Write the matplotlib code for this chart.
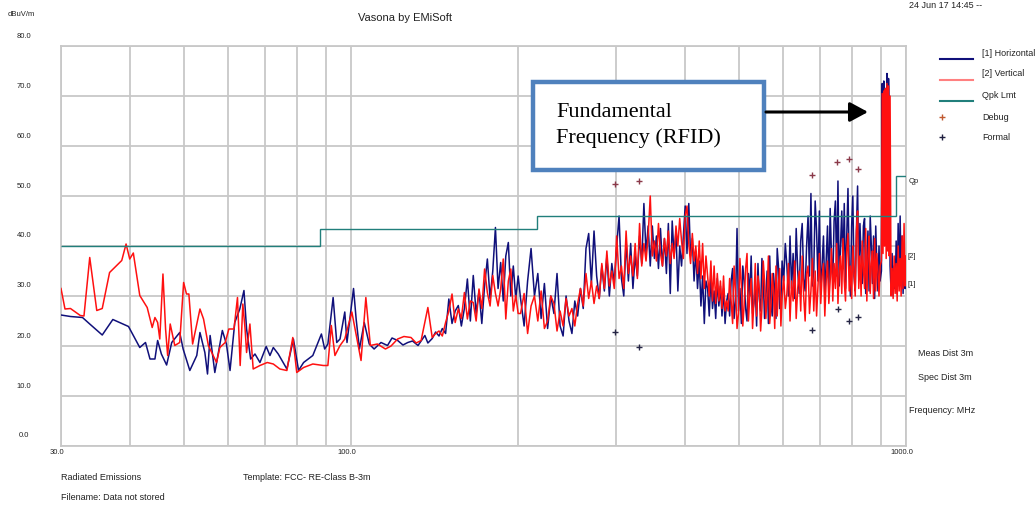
import math
import matplotlib
matplotlib.use('Agg')
import matplotlib.pyplot as plt
from matplotlib.patches import Rectangle, FancyArrowPatch
from matplotlib.lines import Line2D
from matplotlib.ticker import NullLocator

plt.rcParams['font.family'] = ['Liberation Sans', 'DejaVu Sans']

# ---------------- data (MHz, dBuV/m) ----------------
# 30 - 140 MHz, read point by point
horiz_low = [(30.0, 26.2), (31.2, 25.9), (32.8, 25.7), (33.8, 24.4), (35.6, 22.2), (37.2, 25.3),
             (39.7, 23.9), (40.5, 22.1), (41.6, 19.7), (42.6, 20.7), (43.4, 17.4), (44.3, 17.4),
             (44.8, 21.1), (45.5, 18.4), (46.5, 16.2), (47.5, 20.7), (49.1, 22.7), (49.8, 19.4),
             (51.2, 15.1), (52.7, 18.1), (53.4, 22.7), (54.5, 18.7), (55.1, 14.4), (55.7, 22.1),
             (56.8, 14.7), (58.6, 23.1), (59.6, 20.4), (60.5, 15.1), (61.7, 24.7), (63.0, 27.4),
             (64.1, 31.1), (64.8, 23.4), (65.9, 17.4), (67.1, 18.4), (68.5, 16.7), (70.3, 19.9),
             (71.4, 18.1), (72.4, 19.7), (73.9, 18.4), (76.6, 15.4), (78.7, 21.4), (80.4, 15.1),
             (82.1, 16.7), (85.3, 18.1), (88.4, 22.4), (89.6, 19.4), (90.8, 20.4), (92.8, 29.7),
             (94.2, 20.7), (95.5, 21.4), (97.4, 26.8), (98.3, 20.7), (101.0, 31.5), (102.1, 25.4),
             (103.5, 19.4), (105.6, 24.7), (107.8, 20.4), (110.0, 19.4), (113.2, 20.7), (116.3, 20.1),
             (118.5, 21.6), (121.3, 21.1), (124.0, 20.2), (126.5, 20.7), (129.0, 21.0), (132.0, 20.1),
             (135.8, 22.1), (137.5, 20.6)]

vert_low = [(30.0, 31.5), (30.5, 27.4), (31.2, 27.5), (32.5, 26.1), (33.0, 26.0), (33.8, 37.7),
            (34.8, 27.1), (35.6, 27.5), (36.7, 34.7), (38.6, 37.1), (39.3, 40.4), (39.9, 37.4),
            (40.5, 38.6), (41.6, 30.1), (42.9, 27.7), (43.8, 23.7), (44.3, 25.7), (44.8, 24.7),
            (45.2, 21.4), (45.8, 34.4), (46.3, 23.4), (46.7, 18.1), (47.2, 24.4), (48.1, 20.1),
            (49.1, 20.7), (49.9, 32.7), (50.5, 30.4), (51.0, 30.4), (51.8, 20.4), (53.4, 27.4),
            (54.2, 25.4), (55.3, 20.1), (56.4, 18.1), (57.2, 16.7), (58.0, 19.7), (59.3, 20.7),
            (60.2, 23.4), (61.5, 23.4), (62.4, 29.7), (63.1, 16.1), (63.8, 28.4), (64.4, 23.4),
            (64.8, 18.7), (65.7, 24.4), (66.6, 15.4), (68.5, 16.1), (70.6, 16.7), (72.4, 16.4),
            (74.4, 15.4), (76.6, 15.1), (78.5, 21.7), (79.8, 14.7), (82.1, 15.7), (85.3, 16.4),
            (89.1, 16.1), (90.8, 16.1), (92.1, 24.1), (93.5, 18.1), (95.5, 20.1), (97.4, 21.4),
            (100.3, 26.8), (104.2, 17.1), (106.3, 29.7), (108.3, 20.1), (111.5, 20.4), (115.3, 19.4),
            (118.0, 20.0), (121.3, 21.4), (124.5, 21.9), (128.2, 21.7), (131.0, 20.6), (133.7, 21.1),
            (137.5, 27.7)]

# 140 - 200 MHz sweep
sweep_a_freq = [140, 142, 144, 146, 148, 150, 152, 154, 156, 158,
                160, 162, 164, 166, 168, 170, 172, 174, 176, 178,
                180, 182, 184, 186, 188, 190, 192, 194, 196, 198, 200]
horiz_a = [21.5, 22.8, 22.0, 23.5, 22.5, 29.4, 24.5, 27.0, 28.1, 24.0,
           27.5, 33.4, 25.0, 34.1, 26.5, 31.0, 24.5, 32.1, 37.4, 29.5,
           35.0, 43.7, 31.5, 36.7, 29.0, 38.0, 40.7, 30.0, 36.0, 29.5, 34.0]
vert_a = [21.7, 22.5, 23.0, 22.0, 24.7, 27.0, 30.4, 24.7, 27.4, 25.5,
          30.7, 25.4, 29.0, 28.7, 25.0, 31.4, 27.5, 35.4, 30.7, 28.0,
          34.1, 30.5, 28.0, 31.4, 37.4, 25.4, 33.0, 35.4, 27.0, 30.1, 26.5]

# 202 - 475 MHz sweep
sweep_b_freq = [202, 205, 208, 211, 214, 217, 220, 223, 226, 229,
                232, 235, 238, 241, 244, 247, 250, 253, 256, 259,
                262, 265, 268, 271, 274, 277, 280, 283, 286, 289,
                292, 295, 298, 301, 304, 307, 310, 313, 316, 319,
                322, 325, 328, 331, 334, 337, 340, 343, 346, 349,
                352, 355, 358, 361, 364, 367, 370, 373, 376, 379,
                382, 385, 388, 391, 394, 397, 400, 403, 406, 409,
                412, 415, 418, 421, 424, 427, 430, 433, 436, 439,
                442, 445, 448, 451, 454, 457, 460, 463, 466, 469, 472, 475]
horiz_b = [29.5, 24.0, 33.0, 39.5, 30.0, 34.5, 25.5, 32.5, 23.5, 30.0,
           26.5, 34.5, 24.0, 22.0, 30.0, 25.0, 22.5, 29.0, 26.0, 31.5,
           27.5, 39.5, 42.5, 32.5, 43.0, 34.0, 29.5, 36.0, 31.0, 38.0,
           30.0, 36.5, 32.5, 40.0, 46.0, 33.5, 30.0, 41.0, 33.0, 40.5,
           31.5, 38.0, 34.0, 42.0, 36.5, 48.5, 38.5, 44.0, 36.0, 44.0,
           37.5, 42.0, 35.5, 43.5, 36.0, 41.5, 34.5, 44.5, 30.5, 45.0,
           38.0, 43.0, 31.0, 40.0, 36.0, 42.0, 48.0, 38.5, 48.5, 38.0,
           41.5, 33.0, 39.0, 31.5, 37.0, 28.0, 34.0, 24.5, 33.0, 31.5,
           26.0, 34.0, 27.5, 31.0, 25.5, 33.5, 28.0, 32.0, 26.0, 31.5, 24.5, 29.0]
vert_b = [26.5, 30.5, 22.5, 28.0, 30.0, 25.0, 31.0, 23.5, 25.0, 30.0,
          28.5, 23.0, 27.0, 24.0, 29.5, 26.0, 27.5, 24.0, 28.5, 31.5,
          28.0, 34.5, 29.5, 33.0, 28.5, 32.0, 29.5, 36.5, 31.5, 39.0,
          32.0, 35.0, 31.5, 42.0, 33.5, 36.0, 31.5, 43.0, 34.5, 38.0,
          34.0, 40.5, 33.5, 44.5, 36.0, 40.5, 37.0, 42.0, 50.0, 38.0,
          41.0, 37.0, 44.5, 38.5, 36.0, 41.5, 38.0, 43.0, 36.5, 40.5,
          37.5, 44.0, 40.0, 45.5, 41.0, 37.5, 46.0, 48.0, 40.5, 36.5,
          42.5, 37.0, 40.0, 34.5, 41.0, 33.5, 40.5, 31.5, 38.0, 34.0,
          30.0, 37.0, 29.0, 36.0, 28.5, 34.5, 29.0, 33.0, 27.5, 34.0, 27.0, 29.0]

# 478 - 1000 MHz sweep
sweep_c_freq = [478, 481, 484, 487, 490, 493, 496, 499, 502, 505, 508, 511, 514, 517, 520, 523, 526, 529,
                532, 535, 538, 541, 544, 547, 550, 553, 556, 559, 562, 565, 568, 571, 574, 577, 580, 583,
                586, 589, 592, 595, 598,
                602, 606, 610, 614, 618, 622, 626, 630, 634, 638, 642, 646, 650, 654, 658, 662, 666, 670,
                674, 678, 682, 686, 690, 694, 698, 702, 706, 710, 714, 718,
                722, 726, 730, 734, 738, 742, 746, 750, 754, 758, 762, 766, 770, 774, 778, 782, 786, 790,
                794, 798, 802, 806, 810, 814, 818, 822, 826, 830, 834, 838, 842, 846, 850, 854, 858, 862,
                866, 870, 874, 878, 882, 886, 890, 894, 898,
                903, 906, 909, 912, 915, 918, 921, 924, 927, 930, 933, 936,
                940, 944, 948, 952, 956, 960, 964, 968, 972, 976, 980, 984, 988, 992, 996, 1000]
horiz_c = [30.5, 26.0, 33.0, 35.5, 25.5, 29.0, 43.5, 27.0, 31.5, 24.5,
           36.0, 33.0, 27.5, 25.0, 34.5, 30.0, 38.0, 26.5, 28.5, 32.0,
           24.0, 36.5, 29.5, 27.0, 37.5, 33.5, 25.5, 30.0, 35.0, 24.5,
           38.0, 28.5, 26.0, 34.5, 31.0, 25.5, 39.5, 36.0, 27.5, 29.0, 37.0,
           33.0, 40.5, 36.0, 30.0, 42.0, 31.5, 38.5, 29.5, 43.5, 35.0,
           30.5, 41.0, 44.5, 33.5, 31.0, 40.0, 46.0, 34.0, 50.5, 32.0,
           35.0, 49.0, 43.0, 33.0, 47.0, 30.5, 36.5, 42.0, 30.0, 37.0,
           44.0, 31.0, 47.5, 38.0, 33.0, 45.0, 49.0, 34.0, 53.0, 32.0,
           40.0, 47.0, 35.5, 48.5, 31.5, 42.0, 51.5, 36.0, 30.0, 44.0,
           50.0, 34.0, 31.0, 43.0, 52.0, 33.5, 44.5, 38.0, 32.5, 44.0,
           45.5, 30.5, 37.0, 43.0, 31.0, 46.0, 40.0, 32.5, 42.0, 29.5,
           44.0, 36.0, 31.0, 40.0, 33.0,
           35.0, 72.5, 45.0, 73.0, 50.0, 71.5, 44.0, 74.5, 48.0, 73.5, 64.5, 36.0,
           31.0, 38.5, 30.0, 36.0, 31.5, 41.0, 30.5, 44.5, 32.0, 46.0, 33.5, 42.0,
           30.5, 39.0, 31.5, 32.5]
vert_c = [27.0, 33.5, 29.0, 24.5, 36.0, 31.0, 23.5, 26.5, 37.5, 32.0,
          24.0, 28.5, 35.5, 38.5, 25.0, 30.0, 33.5, 23.5, 29.0, 36.5,
          26.0, 34.0, 31.5, 23.0, 27.5, 37.0, 33.0, 25.5, 30.5, 38.0,
          24.5, 28.0, 34.5, 31.0, 23.5, 36.0, 26.0, 32.5, 35.5, 24.0, 29.5,
          34.0, 27.5, 30.5, 36.5, 25.0, 33.0, 29.0, 37.0, 25.5, 31.5,
          35.0, 27.0, 38.0, 30.0, 25.0, 34.5, 36.0, 26.5, 31.0, 37.5,
          27.0, 35.0, 26.0, 32.0, 38.5, 28.5, 34.0, 36.5, 26.0, 33.0,
          37.0, 28.5, 33.0, 39.5, 29.0, 36.5, 31.5, 40.5, 28.5, 35.0,
          38.0, 30.5, 41.5, 33.0, 29.0, 39.0, 42.5, 31.0, 36.0, 29.5,
          40.0, 34.5, 30.0, 43.0, 47.0, 31.5, 38.0, 30.0, 41.0, 35.5,
          31.5, 43.5, 29.0, 38.0, 42.0, 30.5, 36.5, 39.0, 29.5, 41.5,
          31.0, 38.5, 35.0, 30.0, 36.0,
          37.0, 70.5, 38.5, 71.0, 40.0, 71.5, 37.5, 72.5, 39.0, 72.0, 38.0, 70.0,
          30.0, 35.5, 29.5, 38.0, 30.5, 36.5, 29.0, 40.0, 31.0, 37.5, 30.0, 42.0,
          31.5, 44.5, 32.0, 38.0]

# FCC Class B 3 m quasi-peak limit
limit_edges = [30, 88, 216, 960, 1000]
limit_levels = [40.0, 43.5, 46.0, 54.0]

debug_freq = [299, 330, 678, 752, 788, 818]
debug_level = [52.4, 53.0, 54.2, 56.8, 57.4, 55.4]
formal_freq = [299, 330, 678, 754, 788, 818]
formal_level = [22.8, 19.8, 23.2, 27.4, 25.0, 25.8]

grid_freqs = [30, 40, 50, 60, 70, 80, 90, 100, 200, 300, 400, 500, 600, 700, 800, 900, 1000]
y_ticks = [0, 10, 20, 30, 40, 50, 60, 70, 80]
x_label_freqs = [30, 100, 1000]
x_labels = ['30.0', '100.0', '1000.0']

# ---------------- figure ----------------
W, H = 1036, 506
fig = plt.figure(figsize=(W / 100, H / 100), dpi=100)
L, R, T, B = 61, 906, 47, 447
ax = fig.add_axes([L / W, 1 - B / H, (R - L) / W, (B - T) / H])
ax.set_xscale('log')
ax.set_xlim(30, 1000)
ax.set_ylim(0, 80)
ax.set_xticks(grid_freqs)
ax.xaxis.set_minor_locator(NullLocator())
ax.set_yticks(y_ticks)
ax.set_xticklabels([])
ax.set_yticklabels([])
ax.tick_params(length=0)
ax.grid(True, color='#c8c8c8', lw=1.3)
ax.set_axisbelow(True)
for s in ax.spines.values():
    s.set_color('#c8c8c8')
    s.set_linewidth(1.3)

hf = [p[0] for p in horiz_low] + sweep_a_freq + sweep_b_freq + sweep_c_freq
hv = [p[1] for p in horiz_low] + horiz_a + horiz_b + horiz_c
vf = [p[0] for p in vert_low] + sweep_a_freq + sweep_b_freq + sweep_c_freq
vv = [p[1] for p in vert_low] + vert_a + vert_b + vert_c

navy = '#10107a'
red = '#ff1010'
teal = '#217f7b'
ax.plot(hf, hv, color=navy, lw=1.1, zorder=3)
ax.plot(vf, vv, color=red, lw=1.1, zorder=4)
ax.stairs(limit_levels, limit_edges, baseline=None, color=teal, lw=1.0, zorder=5)
ax.plot(debug_freq, debug_level, ls='none', marker='+', ms=5, mew=1.0, color='#8b3a4a', zorder=6)
ax.plot(formal_freq, formal_level, ls='none', marker='+', ms=5, mew=1.0, color='#252545', zorder=6)


def ft(x, y, s, **kw):
    kw.setdefault('fontsize', 6)
    kw.setdefault('va', 'center')
    kw.setdefault('color', '#222222')
    fig.text(x / W, 1 - y / H, s, **kw)


for v in y_ticks:
    ft(24, B - v * 5 - 11, f'{v:.1f}', ha='center', fontsize=5.5)
for f, s in zip(x_label_freqs, x_labels):
    xp = L + (R - L) * math.log10(f / 30) / math.log10(1000 / 30)
    ft(xp - 4, 453, s, ha='center', fontsize=5.5)

ft(8, 15, 'dBuV/m', ha='left', fontsize=5.5)
ft(405, 18, 'Vasona by EMiSoft', ha='center', fontsize=8)
ft(909, 5, '24 Jun 17 14:45 --', ha='left', fontsize=6.5)

leg_items = [('[1] Horizontal', navy, 53, 60), ('[2] Vertical', '#ff8080', 74, 81),
             ('Qpk Lmt', teal, 96, 102)]
for lab, col, ty, ly in leg_items:
    fig.add_artist(Line2D([940 / W, 973 / W], [1 - ly / H] * 2, color=col, lw=1.5,
                          transform=fig.transFigure))
    ft(982, ty, lab, ha='left', fontsize=6.5)
fig.add_artist(Line2D([942 / W], [1 - 118 / H], marker='+', ms=4, mew=1, color='#c05a30',
                      ls='none', transform=fig.transFigure))
ft(982, 117, 'Debug', ha='left', fontsize=6.5)
fig.add_artist(Line2D([942 / W], [1 - 138 / H], marker='+', ms=4, mew=1, color='#202040',
                      ls='none', transform=fig.transFigure))
ft(982, 137, 'Formal', ha='left', fontsize=6.5)

ft(909, 182, 'Qp', ha='left', fontsize=5.5)
ft(908, 257, '[2]', ha='left', fontsize=5.5)
ft(908, 284, '[1]', ha='left', fontsize=5.5)
ft(918, 354, 'Meas Dist 3m', ha='left', fontsize=6.5)
ft(918, 378, 'Spec Dist 3m', ha='left', fontsize=6.5)
ft(909, 411, 'Frequency: MHz', ha='left', fontsize=6.5)

ft(61, 478, 'Radiated Emissions', ha='left', fontsize=6.5)
ft(243, 478, 'Template: FCC- RE-Class B-3m', ha='left', fontsize=6.5)
ft(61, 498, 'Filename: Data not stored', ha='left', fontsize=6.5)

box = Rectangle((533 / W, 1 - 171 / H), (764 - 533) / W, (171 - 83) / H, transform=fig.transFigure,
                facecolor='white', edgecolor='#4f81bd', lw=3.2, zorder=10)
fig.add_artist(box)
serif = ['Liberation Serif', 'DejaVu Serif']
fig.text(556 / W, 1 - 117 / H, 'Fundamental', family=serif, fontsize=16, va='baseline',
         ha='left', color='black', zorder=11)
fig.text(556 / W, 1 - 143 / H, 'Frequency (RFID)', family=serif, fontsize=16, va='baseline',
         ha='left', color='black', zorder=11)
fig.add_artist(FancyArrowPatch(
    (766 / W, 1 - 113 / H), (868 / W, 1 - 113 / H), transform=fig.transFigure,
    arrowstyle='-|>,head_length=0.5,head_width=0.27', mutation_scale=22,
    color='black', lw=2.2, shrinkA=0, shrinkB=0, zorder=11))

fig.savefig('out.png', dpi=100, facecolor='white')
